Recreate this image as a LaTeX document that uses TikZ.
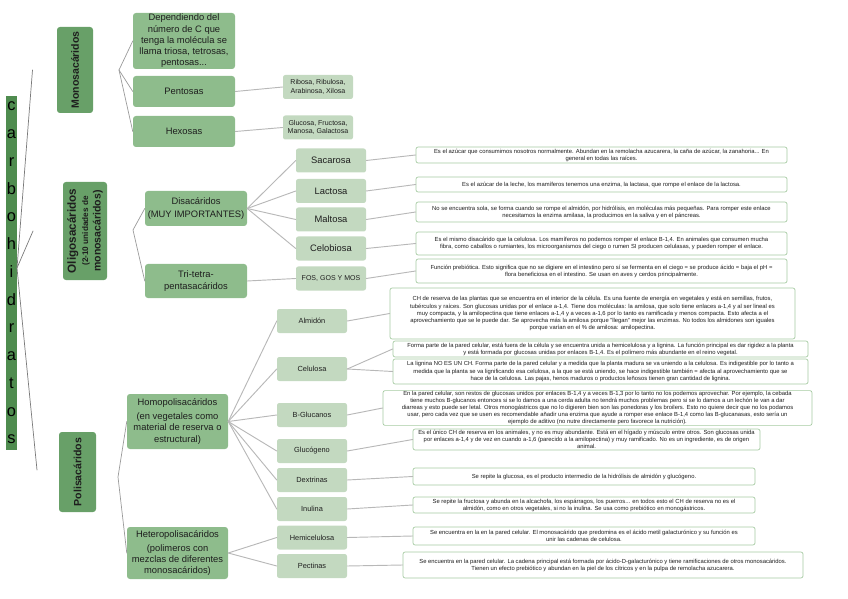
\documentclass[tikz,border=0pt]{standalone}
\usepackage{fontspec}
\setmainfont{Liberation Sans}
\usetikzlibrary{positioning}
\definecolor{carbgreen}{HTML}{4F8C4F}
\definecolor{darkgreen}{HTML}{68A068}
\definecolor{midgreen}{HTML}{8EBC8C}
\definecolor{lightgreen}{HTML}{C3D9C0}
\definecolor{descline}{HTML}{A6CBA2}
\definecolor{connline}{HTML}{B8B8B8}
\definecolor{forkline}{HTML}{9A9A9A}
\definecolor{braceline}{HTML}{7A7A7A}
\definecolor{txtink}{HTML}{1E1E1E}

\begin{document}
\begin{tikzpicture}[
  x=0.03cm, y=-0.03cm,
  line cap=round, line join=round,
  carb/.style = {fill=carbgreen, minimum width=0.33cm, minimum height=10.62cm,
                 inner sep=0pt, align=center, text=black,
                 font=\fontsize{14}{23.7}\selectfont},
  lvlone/.style = {fill=darkgreen, rounded corners=2.5pt, rotate=90, inner sep=1pt,
                   align=center, text=txtink, font=\fontsize{9}{10.5}\selectfont\bfseries},
  lvltwo/.style = {fill=midgreen, rounded corners=2.5pt, minimum width=3.06cm,
                   inner sep=0.5pt, align=center, text=txtink,
                   font=\fontsize{8}{9.6}\selectfont},
  lvlthree/.style = {fill=lightgreen, rounded corners=2pt, minimum width=2.1cm,
                     minimum height=0.72cm, inner sep=1pt, align=center, text=txtink,
                     font=\fontsize{6.3}{7.4}\selectfont},
  desc/.style = {draw=descline, line width=0.6pt, fill=white, rounded corners=1.8pt,
                 inner sep=0.5pt, align=center, text=txtink,
                 font=\fontsize{5}{6}\selectfont},
  conn/.style = {draw=connline, line width=0.8pt},
  fork/.style = {draw=forkline, line width=0.6pt},
  brace/.style = {draw=braceline, line width=0.6pt}
]
\useasboundingbox (0,0) rectangle (848,599);

% columna carbohidratos
\node[carb] (carb) at (11.5,273) {c\\a\\r\\b\\o\\h\\i\\d\\r\\a\\t\\o\\s};

% nivel 1
\node[lvlone, minimum width=2.58cm, minimum height=1.08cm] (mono) at (75,70) {Monosacáridos};
\node[lvlone, minimum width=2.94cm, minimum height=1.32cm] (oligo) at (85,231)
  {\fontsize{10}{11}\selectfont Oligosacáridos\\
   \fontsize{7}{8.2}\selectfont (2-10 unidades de\\monosacáridos)};
\node[lvlone, minimum width=2.4cm, minimum height=1.11cm] (poli) at (77.5,472) {Polisacáridos};

% nivel 2
\node[lvltwo, minimum height=1.68cm] (dep) at (184,41)
  {Dependiendo del\\número de C que\\tenga la molécula se\\llama triosa, tetrosas,\\pentosas...};
\node[lvltwo, minimum height=0.93cm] (pent) at (184,91.5) {Pentosas};
\node[lvltwo, minimum height=0.93cm] (hex) at (184,131.5) {Hexosas};
\node[lvltwo, minimum height=1.05cm] (dis) at (196,208.5) {Disacáridos\\[1pt](MUY IMPORTANTES)};
\node[lvltwo, minimum height=1.02cm] (tri) at (196,281) {Tri-tetra-\\pentasacáridos};
\node[lvltwo, minimum width=3.03cm, minimum height=1.65cm] (homo) at (177.5,421.5)
  {Homopolisacáridos\\[2pt](en vegetales como\\material de reserva o\\estructural)};
\node[lvltwo, minimum width=3.03cm, minimum height=1.56cm] (het) at (177.5,553)
  {Heteropolisacáridos\\[2pt](polimeros con\\mezclas de diferentes\\monosacáridos)};

% nivel 3: monosacáridos
\node[lvlthree, font=\fontsize{6}{7}\selectfont] (rib) at (318,87) {Ribosa, Ribulosa,\\Arabinosa, Xilosa};
\node[lvlthree, font=\fontsize{6}{7}\selectfont] (glu) at (318,127.5) {Glucosa, Fructosa,\\Manosa, Galactosa};

% nivel 3: oligosacáridos
\node[lvlthree, font=\fontsize{8}{9}\selectfont] (sac) at (331,160.5) {Sacarosa};
\node[lvlthree, font=\fontsize{8}{9}\selectfont] (lac) at (331,191) {Lactosa};
\node[lvlthree, font=\fontsize{8}{9}\selectfont] (mal) at (331,219.5) {Maltosa};
\node[lvlthree, font=\fontsize{8}{9}\selectfont] (cel) at (331,248.5) {Celobiosa};
\node[lvlthree, font=\fontsize{6}{7}\selectfont] (fos) at (331,278.5) {FOS, GOS Y MOS};

% nivel 3: polisacáridos
\node[lvlthree] (alm)  at (312,321)   {Almidón};
\node[lvlthree] (celu) at (312,369)   {Celulosa};
\node[lvlthree] (bglu) at (312,415)   {B-Glucanos};
\node[lvlthree] (gluc) at (312,451)   {Glucógeno};
\node[lvlthree] (dex)  at (312,480)   {Dextrinas};
\node[lvlthree] (inu)  at (312,509)   {Inulina};
\node[lvlthree] (hemi) at (312,537.5) {Hemicelulosa};
\node[lvlthree] (pec)  at (312,566)   {Pectinas};

% descripciones
\node[desc, minimum width=11.13cm, minimum height=0.48cm] (d1) at (601.5,155)
  {Es el azúcar que consumimos nosotros normalmente. Abundan en la remolacha azucarera, la caña de azúcar, la zanahoria... En\\
   general en todas las raíces.};
\node[desc, minimum width=11.13cm, minimum height=0.45cm] (d2) at (601.5,184.5)
  {Es el azúcar de la leche, los mamíferos tenemos una enzima, la lactasa, que rompe el enlace de la lactosa.};
\node[desc, minimum width=11.13cm, minimum height=0.6cm] (d3) at (601.5,212)
  {No se encuentra sola, se forma cuando se rompe el almidón, por hidrólisis, en moléculas más pequeñas. Para romper este enlace\\
   necesitamos la enzima amilasa, la producimos en la saliva y en el páncreas.};
\node[desc, minimum width=11.13cm, minimum height=0.69cm] (d4) at (601.5,243.5)
  {Es el mismo disacárido que la celulosa. Los mamíferos no podemos romper el enlace B-1,4. En animales que consumen mucha\\
   fibra, como caballos o rumiantes, los microorganismos del ciego o rumen SI producen celulasas, y pueden romper el enlace.};
\node[desc, minimum width=11.13cm, minimum height=0.72cm] (d5) at (601.5,271)
  {Función prebiótica. Esto significa que no se digiere en el intestino pero sí se fermenta en el ciego = se produce ácido = baja el pH =\\
   flora beneficiosa en el intestino. Se usan en aves y cerdos principalmente.};
\node[desc, minimum width=12.15cm, minimum height=1.53cm] (d6) at (592.5,313.5)
  {CH de reserva de las plantas que se encuentra en el interior de la célula. Es una fuente de energía en vegetales y está en semillas, frutos,\\
   tubérculos y raíces. Son glucosas unidas por el enlace a-1,4. Tiene dos moléculas: la amilosa, que solo tiene enlaces a-1,4 y al ser lineal es\\
   muy compacta, y la amilopectina que tiene enlaces a-1,4 y a veces a-1,6 por lo tanto es ramificada y menos compacta. Esto afecta a el\\
   aprovechamiento que se le puede dar. Se aprovecha más la amilosa porque "llegan" mejor las enzimas. No todos los almidones son iguales\\
   porque varían en el \% de amilosa: amilopectina.};
\node[desc, minimum width=12.45cm, minimum height=0.48cm] (d7) at (600.5,349)
  {Forma parte de la pared celular, está fuera de la célula y se encuentra unida a hemicelulosa y a lignina. La función principal es dar rigidez a la planta\\
   y está formada por glucosas unidas por enlaces B-1,4. Es el polímero más abundante en el reino vegetal.};
\node[desc, minimum width=12.45cm, minimum height=0.75cm] (d8) at (600.5,371.5)
  {La lignina NO ES UN CH. Forma parte de la pared celular y a medida que la planta madura se va uniendo a la celulosa. Es indigestible por lo tanto a\\
   medida que la planta se va lignificando esa celulosa, a la que se está uniendo, se hace indigestible también = afecta al aprovechamiento que se\\
   hace de la celulosa. Las pajas, henos maduros o productos leñosos tienen gran cantidad de lignina.};
\node[desc, minimum width=12.87cm, minimum height=0.96cm] (d9) at (597.5,408)
  {En la pared celular, son restos de glucosas unidos por enlaces B-1,4 y a veces B-1,3 por lo tanto no los podemos aprovechar. Por ejemplo, la cebada\\
   tiene muchos B-glucanos entonces si se lo damos a una cerda adulta no tendrá muchos problemas pero si se lo damos a un lechón le van a dar\\
   diarreas y esto puede ser letal. Otros monogástricos que no lo digieren bien son las ponedoras y los broilers. Esto no quiere decir que no los podamos\\
   usar, pero cada vez que se usen es recomendable añadir una enzima que ayude a romper ese enlace B-1,4 como las B-glucanasas, esto sería un\\
   ejemplo de aditivo (no nutre directamente pero favorece la nutrición).};
\node[desc, minimum width=10.41cm, minimum height=0.63cm] (d10) at (586.5,439.5)
  {Es el único CH de reserva en los animales, y no es muy abundante. Está en el hígado y músculo entre otros. Son glucosas unida\\
   por enlaces a-1,4 y de vez en cuando a-1,6 (parecido a la amilopectina) y muy ramificado. No es un ingrediente, es de origen\\
   animal.};
\node[desc, minimum width=10.26cm, minimum height=0.51cm] (d11) at (584,476.5)
  {Se repite la glucosa, es el producto intermedio de la hidrólisis de almidón y glucógeno.};
\node[desc, minimum width=10.26cm, minimum height=0.48cm] (d12) at (584,505)
  {Se repite la fructosa y abunda en la alcachofa, los espárragos, los puerros... en todos esto el CH de reserva no es el\\
   almidón, como en otros vegetales, si no la inulina. Se usa como prebiótico en monogástricos.};
\node[desc, minimum width=10.26cm, minimum height=0.54cm] (d13) at (584,536)
  {Se encuentra en la en la pared celular. El monosacárido que predomina es el ácido metil galacturónico y su función es\\
   unir las cadenas de celulosa.};
\node[desc, minimum width=12.0cm, minimum height=0.78cm] (d14) at (603,565)
  {Se encuentra en la pared celular. La cadena principal está formada por ácido-D-galacturónico y tiene ramificaciones de otros monosacáridos.\\
   Tienen un efecto prebiótico y abundan en la piel de los cítricos y en la pulpa de remolacha azucarera.};

% llave de carbohidratos
\coordinate (cr) at (17,268);
\coordinate (ct) at (32.5,70);
\coordinate (cm) at (33,231);
\coordinate (cb) at (37,470);
\draw[brace] (ct) -- (cr) -- (cb);
\draw[brace] (cr) -- (cm);

% ramas de nivel 1
\coordinate (mr) at (119,70);
\coordinate (or) at (133,230);
\coordinate (pr) at (118,477);
\draw[fork] (dep.west) -- (mr) -- (hex.west);
\draw[fork] (mr) -- (pent.west);
\draw[fork] (dis.west) -- (or) -- (tri.west);
\draw[fork] (homo.west) -- (pr) -- (het.west);

% nivel 2 -> nivel 3
\draw[conn] (pent.east) -- (rib.west);
\draw[conn] (hex.east) -- (glu.west);
\draw[conn] (dis.east) -- (sac.west);
\draw[conn] (dis.east) -- (lac.west);
\draw[conn] (dis.east) -- (mal.west);
\draw[conn] (dis.east) -- (cel.west);
\draw[conn] (tri.east) -- (fos.west);
\draw[conn] (homo.east) -- (alm.west);
\draw[conn] (homo.east) -- (celu.west);
\draw[conn] (homo.east) -- (bglu.west);
\draw[conn] (homo.east) -- (gluc.west);
\draw[conn] (homo.east) -- (dex.west);
\draw[conn] (homo.east) -- (inu.west);
\draw[conn] (het.east) -- (hemi.west);
\draw[conn] (het.east) -- (pec.west);

% nivel 3 -> descripciones
\draw[conn] (sac.east) -- (d1.west);
\draw[conn] (lac.east) -- (d2.west);
\draw[conn] (mal.east) -- (d3.west);
\draw[conn] (cel.east) -- (d4.west);
\draw[conn] (fos.east) -- (d5.west);
\draw[conn] (alm.east) -- (d6.west);
\draw[conn] (celu.east) -- (d7.west);
\draw[conn] (celu.east) -- (d8.west);
\draw[conn] (bglu.east) -- (d9.west);
\draw[conn] (gluc.east) -- (d10.west);
\draw[conn] (dex.east) -- (d11.west);
\draw[conn] (inu.east) -- (d12.west);
\draw[conn] (hemi.east) -- (d13.west);
\draw[conn] (pec.east) -- (d14.west);

\end{tikzpicture}
\end{document}
